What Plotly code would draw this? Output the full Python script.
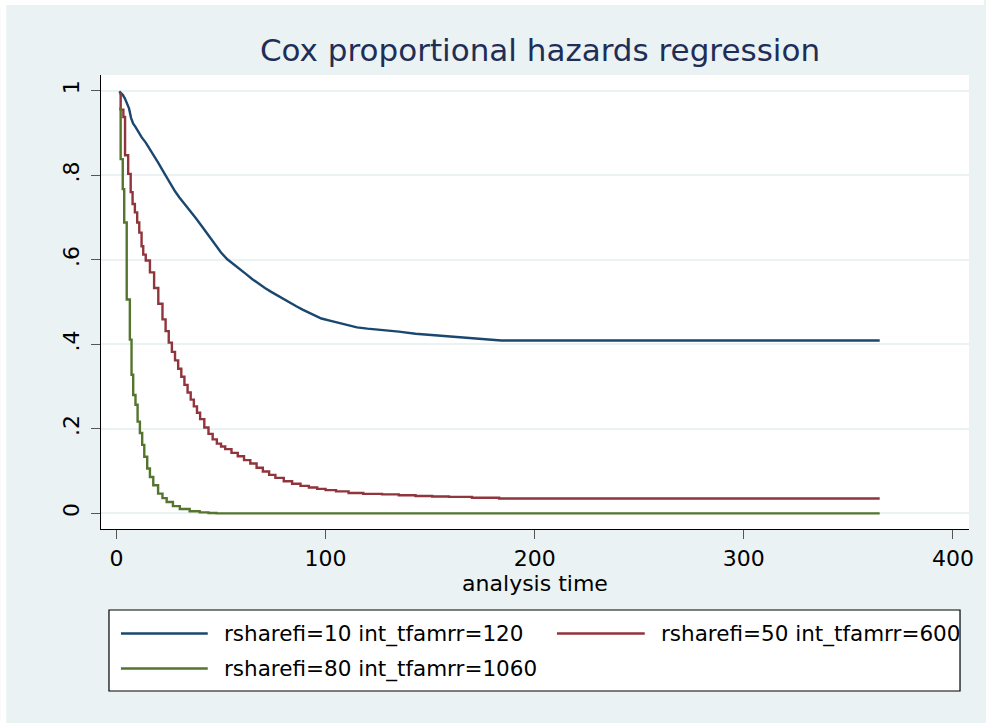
import plotly.graph_objects as go

# ---------------- data ----------------
series_names = [
    "rsharefi=10 int_tfamrr=120",
    "rsharefi=50 int_tfamrr=600",
    "rsharefi=80 int_tfamrr=1060",
]
series_colors = ["#1A476F", "#90353B", "#55752F"]

t_blue = [1.3, 2, 3, 4, 5, 6, 7, 8, 9, 10, 12, 14, 16, 18, 20, 22, 24, 26, 28, 30,
          32, 35, 38, 41, 44, 47, 50, 53, 56, 59, 62, 65, 68, 71, 74, 77, 80, 83,
          86, 89, 92, 95, 98, 102, 106, 110, 115, 120, 127, 135, 143, 151, 159,
          167, 175, 184, 365]
s_blue = [0.998, 0.995, 0.99, 0.982, 0.972, 0.958, 0.935, 0.922, 0.915, 0.906, 0.89,
          0.877, 0.862, 0.847, 0.829, 0.812, 0.795, 0.777, 0.762, 0.748, 0.736,
          0.718, 0.698, 0.678, 0.657, 0.637, 0.617, 0.601, 0.590, 0.579, 0.566,
          0.554, 0.543, 0.533, 0.524, 0.515, 0.507, 0.498, 0.490, 0.482, 0.475,
          0.468, 0.461, 0.456, 0.451, 0.445, 0.440, 0.437, 0.434, 0.430, 0.425,
          0.422, 0.419, 0.416, 0.414, 0.409, 0.409]

t_red = [1.3, 2, 3.3, 4.1, 5.6, 6.8, 7.7, 8.8, 9.9, 10.9, 12, 12.8, 14, 16, 18, 20,
         22, 23.5, 25, 26.5, 28, 29.5, 31, 32.5, 34, 35.5, 37, 38.5, 40, 42, 44, 46,
         48, 50, 52, 55, 58, 61, 64, 67, 70, 73, 76, 80, 84, 88, 92, 96, 100, 105,
         111, 118, 127, 135, 143, 151, 159, 170, 183, 365]
s_red = [0.993, 0.955, 0.9375, 0.847, 0.803, 0.76, 0.732, 0.712, 0.688, 0.664, 0.632,
         0.612, 0.598, 0.57, 0.533, 0.496, 0.459, 0.431, 0.404, 0.382, 0.362, 0.342,
         0.323, 0.304, 0.286, 0.269, 0.253, 0.238, 0.223, 0.203, 0.188, 0.175,
         0.165, 0.158, 0.152, 0.143, 0.135, 0.126, 0.118, 0.108, 0.099, 0.091,
         0.084, 0.076, 0.070, 0.065, 0.061, 0.058, 0.055, 0.052, 0.048, 0.046,
         0.045, 0.043, 0.041, 0.040, 0.039, 0.037, 0.035, 0.035]

t_green = [1.3, 2, 3, 3.7, 4.9, 6.4, 7.2, 8.0, 9.1, 10.1, 11.2, 12.3, 13.3, 14.7, 16,
           17.6, 19.9, 22, 24, 27, 30.3, 35, 39.8, 44, 47.8, 365]
s_green = [0.957, 0.838, 0.767, 0.688, 0.506, 0.411, 0.328, 0.28, 0.257, 0.217, 0.19,
           0.162, 0.134, 0.106, 0.086, 0.0665, 0.0467, 0.036, 0.027, 0.017, 0.0103,
           0.005, 0.0024, 0.001, 0.0, 0.0]

x_tickvals = [0, 100, 200, 300, 400]
y_tickvals = [0, 0.2, 0.4, 0.6, 0.8, 1]
y_ticktext = ["0", ".2", ".4", ".6", ".8", "1"]

title_text = "Cox proportional hazards regression"
x_title = "analysis time"

# ---------------- layout constants ----------------
W, H = 986, 723
ML, MR, MT, MB = 101, 15, 75, 194
PW, PH = W - ML - MR, H - MT - MB
BG = "#EAF2F3"
FONT = "DejaVu Sans"


def px_x(px):
    return (px - ML) / PW


def px_y(py):
    return (H - MB - py) / PH


fig = go.Figure()
shapes_mode = ["linear", "hv", "hv"]
for t, s, name, col, shp in zip([t_blue, t_red, t_green], [s_blue, s_red, s_green],
                                series_names, series_colors, shapes_mode):
    fig.add_trace(go.Scatter(x=t, y=s, mode="lines", name=name, line_shape=shp,
                             line=dict(color=col, width=2.4), showlegend=False))

shapes = []
annotations = []
# white strips at top and left edge of the image
shapes.append(dict(type="rect", xref="paper", yref="paper", x0=px_x(0), x1=px_x(W),
                   y0=px_y(0), y1=px_y(5), fillcolor="white", line_width=0, layer="above"))
shapes.append(dict(type="rect", xref="paper", yref="paper", x0=px_x(0), x1=px_x(6),
                   y0=px_y(0), y1=px_y(H), fillcolor="white", line_width=0, layer="above"))

# legend box
shapes.append(dict(type="rect", xref="paper", yref="paper", x0=px_x(109), x1=px_x(962),
                   y0=px_y(610), y1=px_y(691), fillcolor="white",
                   line=dict(color="black", width=1.2), layer="above"))
legend_pos = [(121, 208, 222, 633.5), (558, 646, 660, 633.5), (121, 208, 222, 668.5)]
for (lx0, lx1, tx, ly), name, col in zip(legend_pos, series_names, series_colors):
    shapes.append(dict(type="line", xref="paper", yref="paper", x0=px_x(lx0), x1=px_x(lx1),
                       y0=px_y(ly), y1=px_y(ly), line=dict(color=col, width=2.4),
                       layer="above"))
    annotations.append(dict(text=name, xref="paper", yref="paper", x=px_x(tx), y=px_y(ly),
                            xanchor="left", yanchor="middle", showarrow=False,
                            font=dict(family=FONT, size=21.5, color="black")))

fig.update_layout(
    width=W, height=H,
    margin=dict(l=ML, r=MR, t=MT, b=MB, pad=0),
    paper_bgcolor=BG, plot_bgcolor="white",
    title=dict(text=title_text, x=540 / W, xref="container", xanchor="center",
               y=1 - 50 / H, yref="container", yanchor="middle",
               font=dict(family=FONT, size=31, color="#1F2E57")),
    shapes=shapes, annotations=annotations,
    showlegend=False,
)
fig.update_xaxes(
    range=[-7.4, 407.7], tickvals=x_tickvals, ticks="outside", ticklen=9, tickwidth=1.3,
    tickcolor="#555555", showline=True, linecolor="black", linewidth=1.3,
    showgrid=False, zeroline=False,
    tickfont=dict(family=FONT, size=22, color="black"), ticklabelstandoff=0,
    title=dict(text=x_title, font=dict(family=FONT, size=22, color="black"), standoff=0),
)
fig.update_yaxes(
    range=[-0.037, 1.037], tickvals=y_tickvals, ticktext=y_ticktext, tickangle=-90,
    ticks="outside", ticklen=9, tickwidth=1.3, tickcolor="#555555",
    showline=True, linecolor="black", linewidth=1.3,
    showgrid=True, gridcolor=BG, gridwidth=2, zeroline=False,
    tickfont=dict(family=FONT, size=22, color="black"), ticklabelstandoff=3,
)

fig.write_html(
    "out.html",
    config={"displayModeBar": False},
    post_script=(
        "document.body.style.margin='0px';"
        "document.body.style.overflow='hidden';"
        "document.body.style.background='" + BG + "';"
        "document.documentElement.style.background='" + BG + "';"
    ),
)
